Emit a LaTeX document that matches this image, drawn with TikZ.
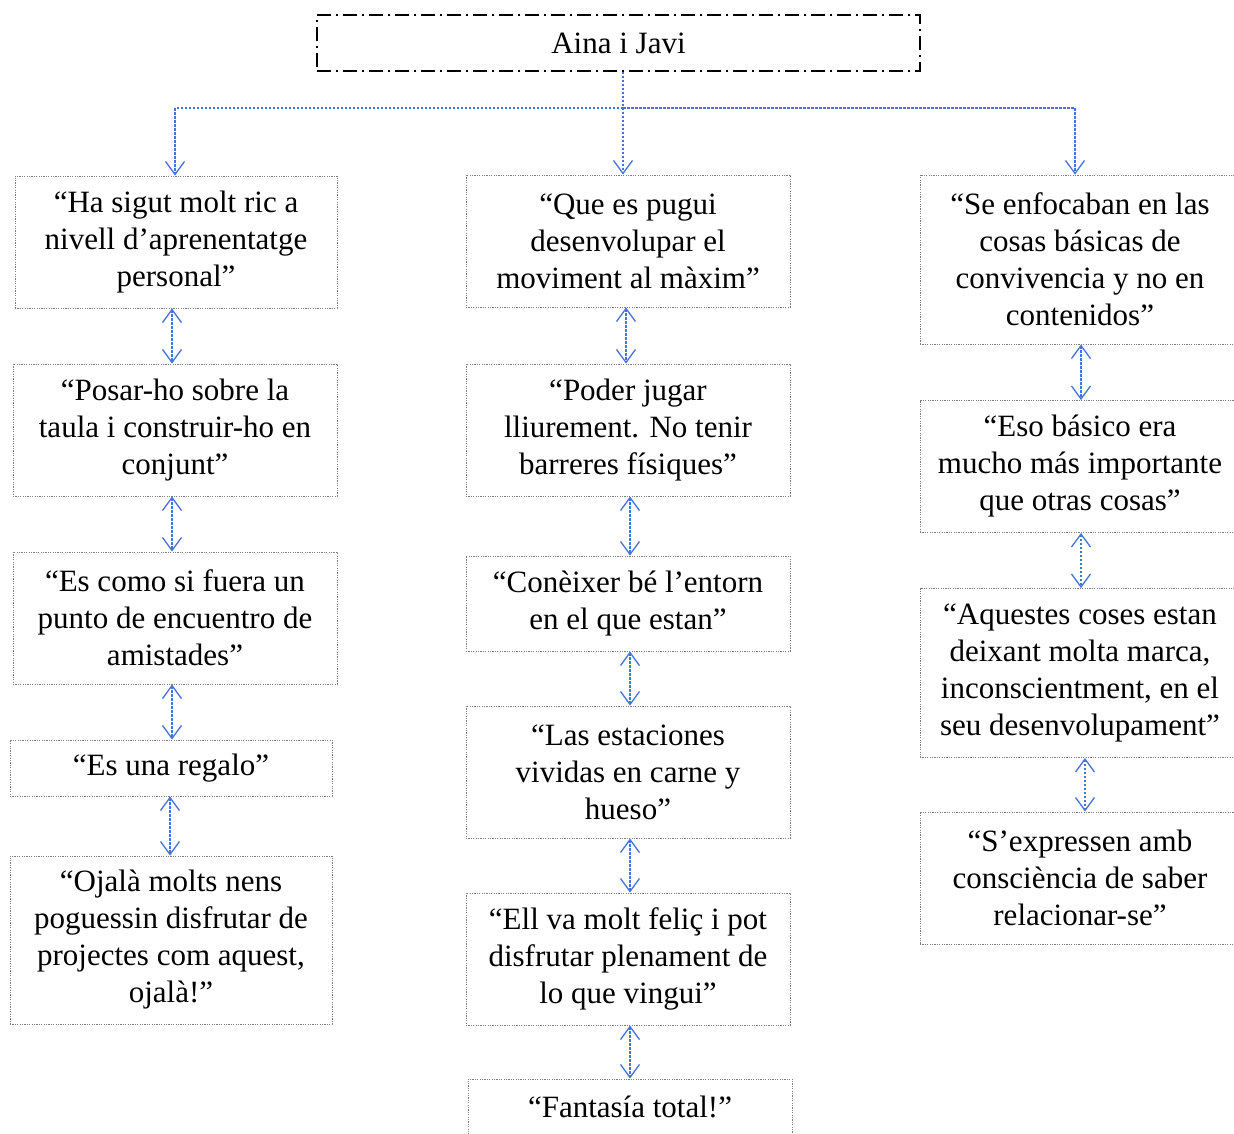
\documentclass[tikz,border=0pt]{standalone}
\usepackage{fontspec}
\setmainfont{Liberation Serif}
\usetikzlibrary{arrows.meta}
\definecolor{linkblue}{RGB}{70,115,215}
\definecolor{boxgray}{RGB}{125,125,125}
\tikzset{
  quote/.style={draw=boxgray, line width=0.9pt, dash pattern=on 1.2pt off 1.2pt,
    fill=white, align=center, inner sep=0pt,
    font=\fontsize{31}{37}\selectfont},
  headbox/.style={draw=black, line width=1.4pt,
    dash pattern=on 14pt off 5pt on 2pt off 5pt,
    align=center, inner sep=0pt, font=\fontsize{31}{37}\selectfont},
  link/.style={draw=linkblue, line width=1.2pt, dash pattern=on 2.5pt off 1.5pt},
  barb/.tip={Straight Barb[length=13pt,width=19pt,line width=1.3pt]},
  twoway/.style={link, barb-barb},
  oneway/.style={link, -barb}
}
\begin{document}
\begin{tikzpicture}[x=1pt,y=-1pt]
\useasboundingbox (0,0) rectangle (1234,1133);
\clip (0,0) rectangle (1234,1133);
\fill[white] (0,0) rectangle (1234,1133);

% heading
\node[headbox, minimum width=603pt, minimum height=56pt] (top) at (618.5,43) {Aina i Javi};

% left column
\node[quote, minimum width=322pt, minimum height=132pt] (L1) at (176,242)
  {“Ha sigut molt ric a\\nivell d’aprenentatge\\personal”};
\node[quote, minimum width=324pt, minimum height=132pt] (L2) at (175,430)
  {“Posar-ho sobre la\\taula i construir-ho en\\conjunt”};
\node[quote, minimum width=324pt, minimum height=132pt] (L3) at (175,618)
  {“Es como si fuera un\\punto de encuentro de\\amistades”};
\node[quote, minimum width=322pt, minimum height=56pt] (L4) at (171,768)
  {“Es una regalo”};
\node[quote, minimum width=322pt, minimum height=168pt] (L5) at (171,940)
  {“Ojalà molts nens\\poguessin disfrutar de\\projectes com aquest,\\ojalà!”};

% middle column
\node[quote, minimum width=324pt, minimum height=132pt] (M1) at (628,241)
  {“Que es pugui\\desenvolupar el\\moviment al màxim”};
\node[quote, minimum width=324pt, minimum height=132pt] (M2) at (628,430)
  {“Poder jugar\\lliurement. No tenir\\barreres físiques”};
\node[quote, minimum width=324pt, minimum height=95pt] (M3) at (628,603.5)
  {“Conèixer bé l’entorn\\en el que estan”};
\node[quote, minimum width=324pt, minimum height=132pt] (M4) at (628,772)
  {“Las estaciones\\vividas en carne y\\hueso”};
\node[quote, minimum width=324pt, minimum height=132pt] (M5) at (628,959)
  {“Ell va molt feliç i pot\\disfrutar plenament de\\lo que vingui”};
\node[quote, minimum width=324pt, minimum height=56pt] (M6) at (630,1107)
  {“Fantasía total!”};

% right column
\node[quote, minimum width=320pt, minimum height=169pt] (R1) at (1080,259.5)
  {“Se enfocaban en las\\cosas básicas de\\convivencia y no en\\contenidos”};
\node[quote, minimum width=320pt, minimum height=132pt] (R2) at (1080,466.5)
  {“Eso básico era\\mucho más importante\\que otras cosas”};
\node[quote, minimum width=320pt, minimum height=169pt] (R3) at (1080,673)
  {“Aquestes coses estan\\deixant molta marca,\\inconscientment, en el\\seu desenvolupament”};
\node[quote, minimum width=320pt, minimum height=132pt] (R4) at (1080,878)
  {“S’expressen amb\\consciència de saber\\relacionar-se”};

% branching from the heading
\coordinate (bus) at (623,108);
\draw[oneway] ([xshift=4.5pt]top.south) -- ([xshift=-5pt]M1.north);
\draw[oneway] (bus) -| ([xshift=-1pt]L1.north);
\draw[oneway] (bus) -| ([xshift=-5pt]R1.north);

% links inside the left column
\draw[twoway] ([xshift=-4pt]L1.south) -- ([xshift=-3pt]L2.north);
\draw[twoway] ([xshift=-3pt]L2.south) -- ([xshift=-3pt]L3.north);
\draw[twoway] ([xshift=-3pt]L3.south) -- ([xshift=1pt]L4.north);
\draw[twoway] ([xshift=-1pt]L4.south) -- ([xshift=-1pt]L5.north);

% links inside the middle column
\draw[twoway] ([xshift=-2pt]M1.south) -- ([xshift=-2pt]M2.north);
\draw[twoway] ([xshift=2pt]M2.south) -- ([xshift=2pt]M3.north);
\draw[twoway] ([xshift=2pt]M3.south) -- ([xshift=2pt]M4.north);
\draw[twoway] ([xshift=2pt]M4.south) -- ([xshift=2pt]M5.north);
\draw[twoway] ([xshift=2pt]M5.south) -- ([xshift=0pt]M6.north);

% links inside the right column
\draw[twoway] ([xshift=1pt]R1.south) -- ([xshift=1pt]R2.north);
\draw[twoway] ([xshift=1pt]R2.south) -- ([xshift=1pt]R3.north);
\draw[twoway] ([xshift=5pt]R3.south) -- ([xshift=5pt]R4.north);
\end{tikzpicture}
\end{document}
